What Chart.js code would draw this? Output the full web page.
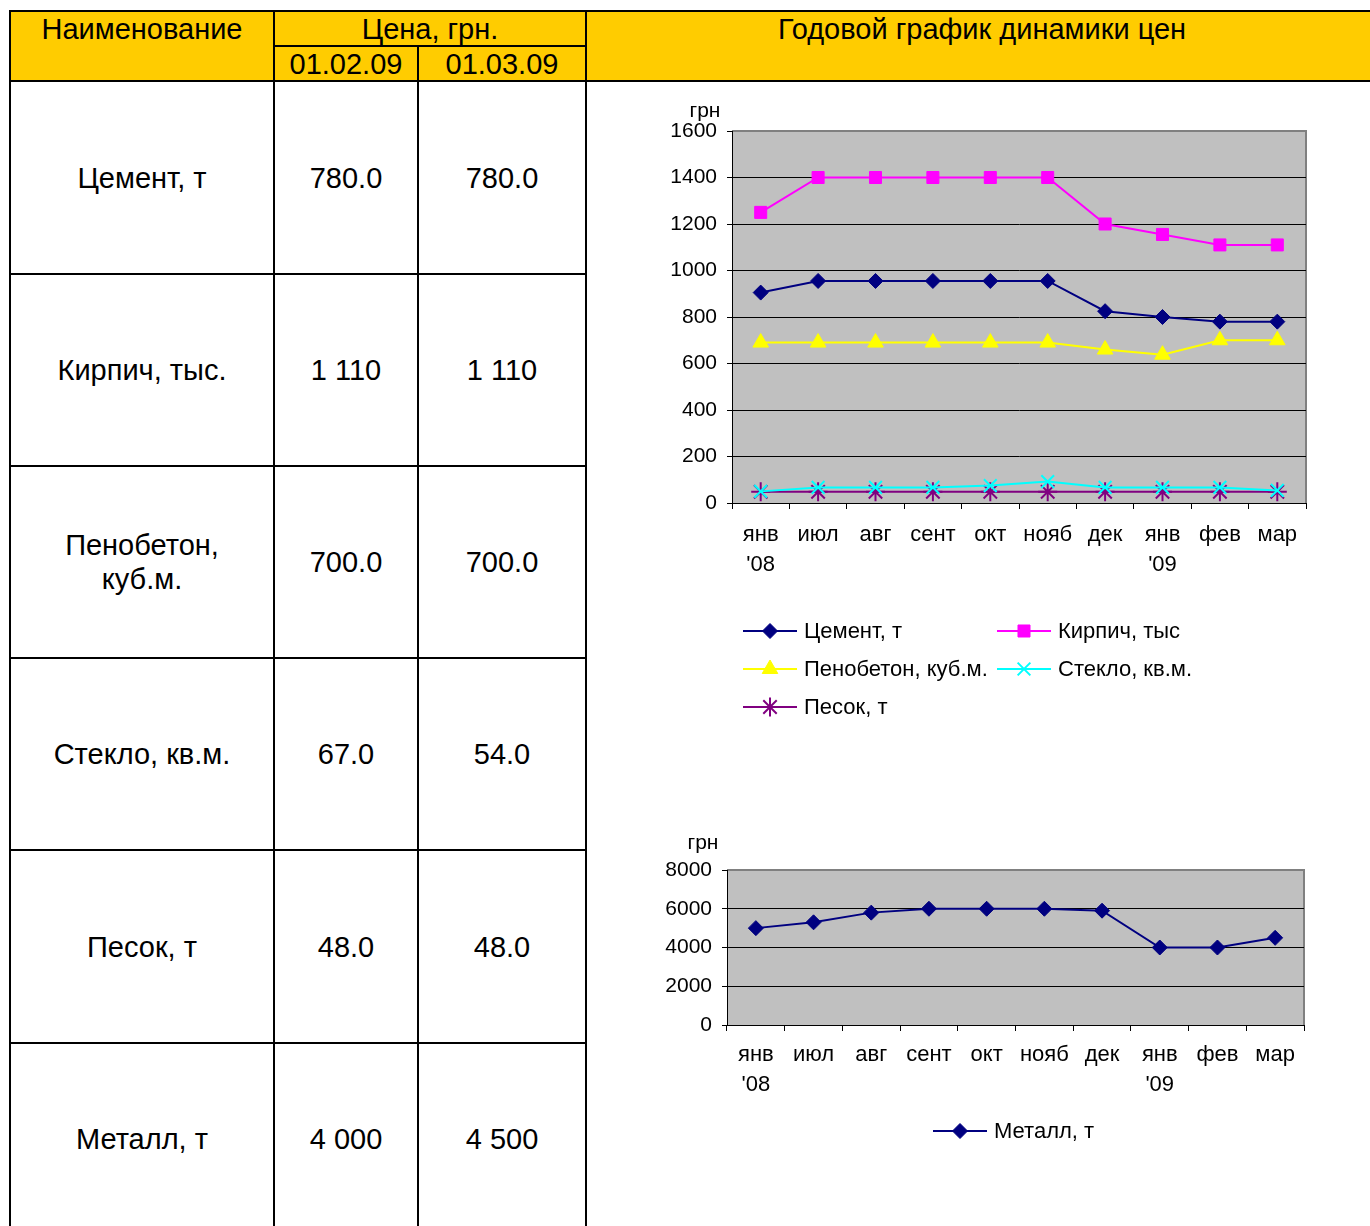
<!DOCTYPE html>
<html><head><meta charset="utf-8">
<script src="https://cdn.jsdelivr.net/npm/chart.js@4.4.1/dist/chart.umd.min.js"></script>
<style>
body{margin:0;width:1370px;height:1226px;overflow:hidden;background:#fff;font-family:'Liberation Sans',Arial,sans-serif;position:relative}
.ln{position:absolute;background:#000}
.hd{position:absolute;background:#FFCC00}
.tx{position:absolute;display:flex;align-items:center;justify-content:center;text-align:center;font-size:29px;color:#000;line-height:34px;white-space:pre-line}
canvas{position:absolute}
</style></head><body>
<div id="page"></div>
<canvas id="c1" width="770" height="650" style="left:600px;top:90px"></canvas>
<canvas id="c2" width="770" height="340" style="left:600px;top:820px"></canvas>
<script>
// ---- data ----
const headName = "Наименование";
const headPrice = "Цена, грн.";
const headDates = ["01.02.09", "01.03.09"];
const chartTitle = "Годовой график динамики цен";
const materials = ["Цемент, т", "Кирпич, тыс.", "Пенобетон,\nкуб.м.", "Стекло, кв.м.", "Песок, т", "Металл, т"];
const priceFeb = ["780.0", "1 110", "700.0", "67.0", "48.0", "4 000"];
const priceMar = ["780.0", "1 110", "700.0", "54.0", "48.0", "4 500"];

const months = [["янв", "'08"], "июл", "авг", "сент", "окт", "нояб", "дек", ["янв", "'09"], "фев", "мар"];
const cement = [905, 955, 955, 955, 955, 955, 825, 800, 780, 780];
const brick  = [1250, 1400, 1400, 1400, 1400, 1400, 1200, 1155, 1110, 1110];
const foam   = [690, 690, 690, 690, 690, 690, 660, 638, 700, 700];
const glass  = [50, 67, 67, 67, 75, 92, 67, 67, 67, 54];
const sand   = [48, 48, 48, 48, 48, 48, 48, 48, 48, 48];
const metal  = [5000, 5300, 5800, 6000, 6000, 6000, 5900, 4000, 4000, 4500];
const yTicksTop = [0, 200, 400, 600, 800, 1000, 1200, 1400, 1600];
const yTicksBottom = [0, 2000, 4000, 6000, 8000];
const seriesNamesTop = ["Цемент, т", "Кирпич, тыс", "Пенобетон, куб.м.", "Стекло, кв.м.", "Песок, т"];
const seriesNameBottom = "Металл, т";
const unitLabel = "грн";

// ---- table ----
const page = document.getElementById('page');
function box(cls, l, t, w, h, txt){ const d=document.createElement('div'); d.className=cls; d.style.left=l+'px'; d.style.top=t+'px'; d.style.width=w+'px'; d.style.height=h+'px'; if(txt!==undefined) d.textContent=txt; page.appendChild(d); return d; }
box('hd', 10, 10, 1360, 71);
const colX = [10, 274, 418, 586, 1378];
const rowY = [81, 274, 466, 658, 850, 1043, 1235];
box('tx', 10, 11, 264, 36, headName);
box('tx', 274, 11, 312, 36, headPrice);
box('tx', 274, 46, 144, 35, headDates[0]);
box('tx', 418, 46, 168, 35, headDates[1]);
box('tx', 586, 11, 792, 36, chartTitle);
for(let i=0;i<materials.length;i++){
  const t=rowY[i], h=rowY[i+1]-rowY[i];
  box('tx', colX[0], t, colX[1]-colX[0], h, materials[i]);
  box('tx', colX[1], t, colX[2]-colX[1], h, priceFeb[i]);
  box('tx', colX[2], t, colX[3]-colX[2], h, priceMar[i]);
}
// lines
box('ln', 9, 10, 1361, 2);
box('ln', 9, 80, 1361, 2);
box('ln', 274, 45, 312, 2);
box('ln', 9, 10, 2, 1216);
box('ln', 273, 10, 2, 1216);
box('ln', 417, 45, 2, 1181);
box('ln', 585, 10, 2, 1216);
for(let i=1;i<rowY.length-1;i++) box('ln', 9, rowY[i]-1, 577, 2);

// ---- charts ----
const FONT = "'Liberation Sans', Arial, sans-serif";
const deco = {
  id:'deco',
  beforeDraw(chart, args, o){
    const {ctx, chartArea:a} = chart;
    ctx.save();
    ctx.fillStyle='#C0C0C0'; ctx.fillRect(a.left,a.top,a.right-a.left,a.bottom-a.top);
    ctx.strokeStyle='#808080'; ctx.lineWidth=2;
    ctx.beginPath(); ctx.moveTo(a.left,a.top); ctx.lineTo(a.right,a.top); ctx.lineTo(a.right,a.bottom); ctx.stroke();
    ctx.restore();
  },
  afterDraw(chart, args, o){
    const {ctx, chartArea:a} = chart;
    ctx.save();
    ctx.fillStyle='#000'; ctx.font='21px '+FONT; ctx.textAlign='center'; ctx.textBaseline='middle';
    ctx.fillText(o.unit, a.left - o.unitDx, a.top - o.unitDy);
    ctx.font='22px '+FONT; ctx.textAlign='left';
    chart.data.datasets.forEach((ds,i)=>{
      const col=i%o.cols, row=Math.floor(i/o.cols);
      const x=o.lx+col*o.colW, y=o.ly+row*o.rowH;
      ctx.strokeStyle=ds.borderColor; ctx.lineWidth=2;
      ctx.beginPath(); ctx.moveTo(x,y); ctx.lineTo(x+54,y); ctx.stroke();
      ctx.fillStyle=ds.pointBackgroundColor; ctx.strokeStyle=ds.borderColor; ctx.lineWidth=ds.pointBorderWidth;
      Chart.helpers.drawPoint(ctx,{pointStyle:ds.pointStyle,radius:ds.pointRadius,rotation:0,borderWidth:ds.pointBorderWidth},x+27,y);
      ctx.fillStyle='#000';
      ctx.fillText(ds.label, x+61, y+1);
    });
    ctx.restore();
  }
};
function mk(label, data, color, style, r){
  return {label, data, borderColor:color, backgroundColor:color, pointBackgroundColor:color, pointBorderColor:color,
    pointStyle:style, pointRadius:r, pointBorderWidth:(style==='crossRot'||style==='star')?2:1, borderWidth:2, tension:0};
}
function opts(ticks, yWidth, pad, decoOpts, tickPad){
  return {
    responsive:false, animation:false, events:[],
    layout:{padding:pad},
    plugins:{legend:{display:false}, tooltip:{enabled:false}, deco:decoOpts},
    scales:{
      x:{ offset:true,
        grid:{offset:true, drawOnChartArea:false, tickLength:6, color:'#000', tickColor:'#000'},
        border:{color:'#000', width:1},
        ticks:{color:'#000', font:{family:FONT, size:22, lineHeight:'30px'}, padding:tickPad, maxRotation:0, autoSkip:false},
        afterFit(s){ s.height=100; } },
      y:{ min:ticks[0], max:ticks[ticks.length-1],
        afterBuildTicks(s){ s.ticks = ticks.map(v=>({value:v})); },
        grid:{color:(c)=> c.tick && c.tick.value===ticks[ticks.length-1] ? '#808080' : '#000', tickColor:'#000', tickLength:5, lineWidth:1},
        border:{color:'#000', width:1},
        ticks:{color:'#000', font:{family:FONT, size:21}, padding:10, callback:(v)=>String(v)},
        afterFit(s){ s.width=yWidth; } }
    }
  };
}
new Chart(document.getElementById('c1'), {
  type:'line',
  data:{ labels:months, datasets:[
    mk(seriesNamesTop[0], cement, '#000080', 'rectRot', 7.5),
    mk(seriesNamesTop[1], brick, '#FF00FF', 'rect', 8.5),
    mk(seriesNamesTop[2], foam, '#FFFF00', 'triangle', 9),
    mk(seriesNamesTop[3], glass, '#00FFFF', 'crossRot', 9),
    mk(seriesNamesTop[4], sand, '#800080', 'star', 9.5)
  ]},
  options: opts(yTicksTop, 132, {top:41, right:64, bottom:137, left:0},
    {unit:unitLabel, unitDx:27, unitDy:20, lx:143, ly:541, colW:254, rowH:38, cols:2}, 11),
  plugins:[deco]
});
new Chart(document.getElementById('c2'), {
  type:'line',
  data:{ labels:months, datasets:[ mk(seriesNameBottom, metal, '#000080', 'rectRot', 7.5) ]},
  options: opts(yTicksBottom, 127, {top:50, right:66, bottom:35, left:0},
    {unit:unitLabel, unitDx:24, unitDy:27, lx:333, ly:311, colW:254, rowH:38, cols:1}, 9),
  plugins:[deco]
});
</script>
</body></html>
